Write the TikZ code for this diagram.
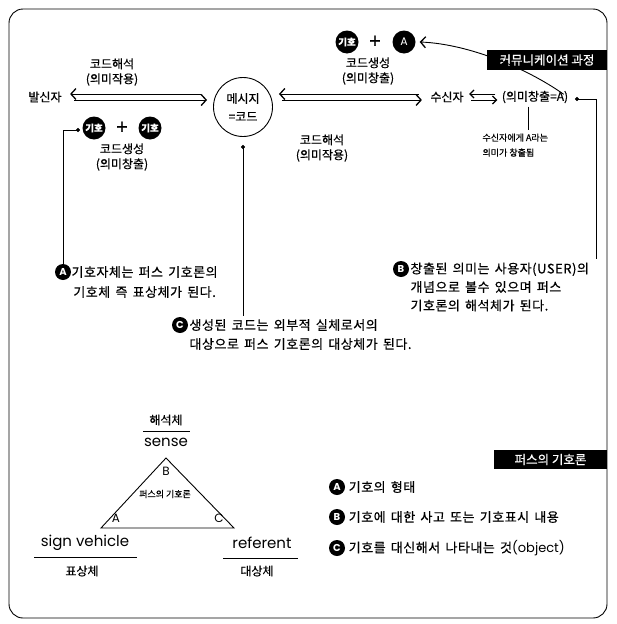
\documentclass[tikz,border=0pt]{standalone}
\usepackage{fontspec}
\setmainfont{Noto Sans CJK KR}[FakeBold=0.6]
\newfontfamily\latin{Poppins}
\usetikzlibrary{arrows.meta}

\tikzset{
  sign/.style={circle, fill=black, text=white, inner sep=0pt, minimum size=23pt, font=\fontsize{9.5}{10}\selectfont\bfseries},
  bul/.style={circle, fill=black, text=white, inner sep=0pt, minimum size=16pt, font=\latin\fontsize{10}{10}\selectfont\bfseries},
  head/.style={fill=black, text=white, inner sep=0pt, font=\fontsize{12.5}{12}\selectfont},
  flow/.style={line width=0.9pt, -{Straight Barb[length=5pt, width=11pt, line width=1.3pt]}},
  small flow/.style={line width=0.9pt, -{Straight Barb[length=4pt, width=8pt, line width=1.3pt]}},
  two/.style={align=center, font=\fontsize{12}{15}\selectfont},
  body/.style={font=\fontsize{13}{#1}\selectfont, execute at begin node={\addfontfeature{LetterSpace=4}\spaceskip=0.4em\relax}},
  body/.default=19,
  lat/.style={font=\latin\fontsize{15}{15}\selectfont},
}

\begin{document}
\begin{tikzpicture}[x=1pt, y=-1pt, font=\fontsize{12}{15}\selectfont]
    \useasboundingbox (0,0) rectangle (616,624);

    % Le cadre
    \draw[line width=0.9pt, rounded corners=14pt] (9,9) rectangle (607,618);

    % Les titres
    \node[head, minimum width=120pt, minimum height=20pt] (hcomm) at (547,60) {커뮤니케이션 과정};
    \node[head, minimum width=113pt, minimum height=19pt] (hpeirce) at (550.5,459.5) {퍼스의 기호론};

    % Emetteur, message, recepteur
    \node (sender) at (45,97) {발신자};
    \node[circle, draw, line width=0.9pt, minimum size=59pt, inner sep=0pt, align=center, font=\fontsize{12}{18}\selectfont] (msg) at (243,107) {메시지\\=코드};
    \node (recv) at (447,97) {수신자};
    \node (mean) at (535,97) {(의미창출=A)};

    % Les fleches doubles
    \draw[flow] ([xshift=-12pt,yshift=13pt]msg.west) -- ([xshift=5pt,yshift=3pt]sender.east);
    \draw[flow] ([xshift=9pt,yshift=-3pt]sender.east) -- ([xshift=-6pt,yshift=7pt]msg.west);

    \draw[flow] ([xshift=-8pt,yshift=3pt]recv.west) -- ([xshift=6pt,yshift=13pt]msg.east);
    \draw[flow] ([xshift=9pt,yshift=7pt]msg.east) -- ([xshift=-5pt,yshift=-3pt]recv.west);

    \draw[small flow] ([xshift=-3pt,yshift=3pt]mean.west) -- ([xshift=2pt,yshift=3pt]recv.east);
    \draw[small flow] ([xshift=4pt,yshift=-3pt]recv.east) -- ([xshift=-1pt,yshift=-3pt]mean.west);

    % Les etiquettes des fleches
    \node[two] (int1) at (112,72) {코드해석\\(의미작용)};
    \node[two] (gen2) at (368,71) {코드생성\\(의미창출)};
    \node[two] (int2) at (322,148) {코드해석\\(의미작용)};

    % Les signes en haut
    \node[sign] (s1) at (347,42) {기호};
    \node[font=\fontsize{20}{20}\selectfont] (p1) at (375,42) {+};
    \node[sign, font=\latin\fontsize{11}{11}\selectfont] (sA) at (404,42) {A};
    \draw[flow] ([xshift=-8pt,yshift=-7pt]mean.north east) .. controls +(-35,-25) and +(50,2) .. ([xshift=4pt]sA.east);

    % Les signes en bas
    \node[sign] (s2) at (94,128) {기호};
    \node[font=\fontsize{20}{20}\selectfont] (p2) at (122,128) {+};
    \node[sign] (s3) at (150,128) {기호};
    \node[two] (gen1) at (122,157) {코드생성\\(의미창출)};

    % La note du recepteur
    \node[align=left, anchor=north west, font=\fontsize{9}{15}\selectfont] (note) at (479,130) {수신자에게 A라는\\의미가 창출됨};
    \draw[line width=0.7pt] ([xshift=-7pt]mean.south) -- ([xshift=-7pt]mean.south |- note.north);

    % Les points de renvoi
    \coordinate (dA) at (78,130);
    \coordinate (dC) at (243,147);
    \coordinate (dB) at (577,99);
    \coordinate (bend) at (596,259);
    \filldraw (dA) circle (1.8pt);
    \filldraw (dC) circle (1.8pt);
    \filldraw (dB) circle (1.8pt);

    % Les explications A, B, C
    \node[bul] (bA) at (63,272) {A};
    \node[body=20, align=center, anchor=west] (tA) at (68,282) {기호자체는 퍼스 기호론의\\기호체 즉 표상체가 된다.};
    \node[bul] (bB) at (401,269) {B};
    \node[body=18.5, align=left, anchor=west] (tB) at (407,287) {창출된 의미는 사용자(USER)의\\개념으로 볼수 있으며 퍼스\\기호론의 해석체가 된다.};
    \node[bul] (bC) at (180,325) {C};
    \node[body, align=left, anchor=west] (tC) at (186,334.5) {생성된 코드는 외부적 실체로서의\\대상으로 퍼스 기호론의 대상체가 된다.};

    \draw[line width=0.7pt] (dA) -| (bA.north);
    \draw[line width=0.7pt] (dC) -- (dC |- tC.north);
    \draw[line width=0.7pt] (dB) -| (bend);

    % Le triangle
    \draw[line width=0.9pt] (166,458) coordinate (vB) -- (101,528) coordinate (vA) -- (234,528) coordinate (vC) -- cycle;
    \node[font=\latin\fontsize{12}{12}\selectfont] (lB) at (166,471) {B};
    \node[font=\latin\fontsize{12}{12}\selectfont] (lA) at (116,518) {A};
    \node[font=\latin\fontsize{12}{12}\selectfont] (lC) at (219,518) {C};
    \node[font=\fontsize{9}{9}\selectfont] (tri) at (165,494) {퍼스의 기호론};

    % Les sommets
    \node (interp) at (166,420) {해석체};
    \node[lat] (sense) at (166,442) {sense};
    \draw[line width=0.7pt] (143,431) -- (190,431);

    \node[lat] (sv) at (85,543) {sign vehicle};
    \draw[line width=0.7pt] (34,557) -- (137,557);
    \node (rep) at (82,571) {표상체};

    \node[lat] (ref) at (262,543) {referent};
    \draw[line width=0.7pt] (223,558) -- (298,558);
    \node (obj) at (257,571) {대상체};

    % La legende
    \node[bul] (kA) at (337,487) {A};
    \node[body, anchor=west] (kAt) at (kA.east) {기호의 형태};
    \node[bul] (kB) at (337,517) {B};
    \node[body, anchor=west] (kBt) at (kB.east) {기호에 대한 사고 또는 기호표시 내용};
    \node[bul] (kC) at (337,548) {C};
    \node[body, anchor=west] (kCt) at (kC.east) {기호를 대신해서 나타내는 것{\latin\fontsize{13}{19}\selectfont(object)}};

\end{tikzpicture}
\end{document}
